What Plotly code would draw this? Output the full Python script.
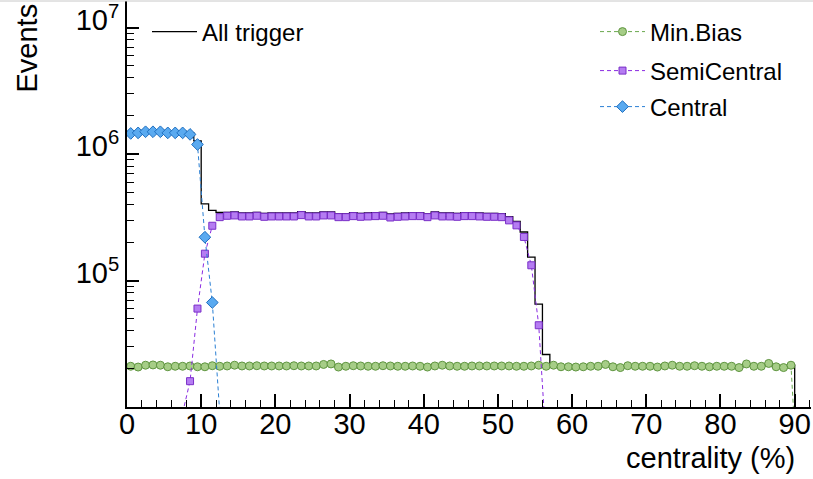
import numpy as np
import plotly.graph_objects as go

# centrality bins (1% wide), lower edges 0..90
bin_low = list(range(0, 91))

min_bias = [
    21000, 20700, 21400, 21500, 21400, 20800, 21000, 21000, 21100, 20800,
    20800, 21200, 21000, 21100, 21400, 21100, 21100, 21200, 21100, 21100,
    21100, 21100, 21200, 21100, 21100, 21100, 21700, 21900, 20700, 21000,
    21200, 21100, 21000, 21000, 21200, 21100, 21000, 21000, 21100, 21000,
    20700, 21100, 21400, 21100, 21000, 21000, 21100, 21100, 21100, 21100,
    21100, 21100, 21000, 21000, 21100, 21400, 21000, 21400, 20800, 20800,
    20700, 20800, 21000, 21000, 21700, 20800, 20500, 21200, 21000, 21000,
    21000, 20700, 21100, 21400, 21000, 21000, 21200, 21000, 20800, 21000,
    21000, 21000, 20500, 21900, 21000, 21000, 22100, 20800, 20500, 21400,
    2000,
]

semi_central = [None] * 7 + [
    9000, 16000, 60000, 163000, 271000, 317000, 325000, 327000, 321000, 321000,
    325000, 319000, 321000, 321000, 321000, 321000, 329000, 321000, 321000, 327000,
    327000, 317000, 317000, 323000, 319000, 321000, 323000, 325000, 315000, 319000,
    321000, 323000, 323000, 317000, 327000, 321000, 321000, 319000, 323000, 323000,
    321000, 319000, 319000, 317000, 299000, 273000, 221000, 132000, 44300, 5000,
] + [None] * 34

central = [
    1455000, 1470000, 1500000, 1500000, 1500000, 1470000, 1470000, 1470000,
    1430000, 1190000, 220000, 67000, 9000,
] + [None] * 78

all_trigger = [
    1500000, 1510000, 1540000, 1540000, 1540000, 1510000, 1510000, 1510000, 1470000, 1270000,
    404000, 359000, 345000, 346000, 348000, 342000, 342000, 346000, 340000, 342000,
    342000, 342000, 342000, 350000, 342000, 342000, 348000, 348000, 338000, 338000,
    344000, 340000, 342000, 344000, 346000, 336000, 340000, 342000, 344000, 344000,
    338000, 348000, 342000, 342000, 340000, 344000, 344000, 342000, 340000, 340000,
    338000, 320000, 294000, 242000, 153000, 65000, 26000, 21400, 20800, 20800,
    20700, 20800, 21000, 21000, 21700, 20800, 20500, 21200, 21000, 21000,
    21000, 20700, 21100, 21400, 21000, 21000, 21200, 21000, 20800, 21000,
    21000, 21000, 20500, 21900, 21000, 21000, 22100, 20800, 20500, 21400,
    2000,
]

y_tick_vals = [1e5, 1e6, 1e7]
y_tick_text = ["10<sup>5</sup>", "10<sup>6</sup>", "10<sup>7</sup>"]
x_tick_vals = [0, 10, 20, 30, 40, 50, 60, 70, 80, 90]

edges = np.array(bin_low, dtype=float)
centers = edges + 0.5

FONT = "Liberation Sans, Arial, sans-serif"

fig = go.Figure()

fig.add_trace(go.Scatter(
    x=edges, y=all_trigger, mode="lines", name="All trigger",
    line=dict(color="black", width=1.3, shape="hv"),
    legend="legend",
))

fig.add_trace(go.Scatter(
    x=centers, y=min_bias, mode="lines+markers", name="Min.Bias",
    line=dict(color="#6aa84f", width=1, dash="4px,3px"),
    marker=dict(symbol="circle", size=8, color="#a6cd87",
                line=dict(color="#5f9540", width=1)),
    legend="legend2",
))

fig.add_trace(go.Scatter(
    x=centers, y=semi_central, mode="lines+markers", name="SemiCentral",
    line=dict(color="#8a2be2", width=1, dash="4px,3px"),
    marker=dict(symbol="square", size=7, color="#b57cf2",
                line=dict(color="#7a2fc8", width=1)),
    legend="legend3",
))

fig.add_trace(go.Scatter(
    x=centers, y=central, mode="lines+markers", name="Central",
    line=dict(color="#2a7fd4", width=1, dash="4px,3px"),
    marker=dict(symbol="diamond", size=9, color="#5aaaf0",
                line=dict(color="#1f6fc0", width=1)),
    legend="legend4",
))

L, R, T, B = 127, 2, 1, 72
W, H = 813, 479
pw = W - L - R
ph = H - T - B

def px2x(px):
    return (px - L) / pw

def py2y(py):
    return 1 - (py - T) / ph

legend_common = dict(
    bgcolor="rgba(0,0,0,0)", borderwidth=0,
    font=dict(family=FONT, size=24, color="black"),
    xanchor="left", yanchor="middle", itemwidth=45,
    tracegroupgap=0,
)

fig.update_layout(
    width=W, height=H,
    margin=dict(l=L, r=R, t=T, b=B),
    paper_bgcolor="white", plot_bgcolor="white",
    font=dict(family=FONT, size=29, color="black"),
    showlegend=True,
    legend=dict(x=px2x(147), y=py2y(32), **legend_common),
    legend2=dict(x=px2x(595), y=py2y(32), **legend_common),
    legend3=dict(x=px2x(595), y=py2y(71), **legend_common),
    legend4=dict(x=px2x(595), y=py2y(107), **legend_common),
    xaxis=dict(
        range=[0, 92.2], showgrid=False, zeroline=False,
        showline=True, linecolor="black", linewidth=2,
        ticks="inside", ticklen=13, tickwidth=1.5, tickcolor="black",
        tickvals=x_tick_vals, ticklabelstandoff=-10,
        tickfont=dict(family=FONT, size=29, color="black"),
        minor=dict(ticks="inside", ticklen=7, tickwidth=1.2, tickcolor="black", dtick=2),
    ),
    yaxis=dict(
        type="log", range=[4, 7.21], showgrid=False, zeroline=False,
        showline=True, linecolor="black", linewidth=2,
        ticks="inside", ticklen=12, tickwidth=1.5, tickcolor="black",
        tickvals=y_tick_vals, ticktext=y_tick_text, ticklabelshift=-8,
        ticklabeloverflow="allow",
        tickfont=dict(family=FONT, size=29, color="black"),
        minor=dict(ticks="inside", ticklen=7, tickwidth=1.2, tickcolor="black", dtick="D1"),
    ),
    annotations=[
        dict(text="centrality (%)", xref="paper", yref="paper",
             x=px2x(797), y=py2y(458), xanchor="right", yanchor="middle",
             showarrow=False, font=dict(family=FONT, size=29, color="black")),
        dict(text="Events", xref="paper", yref="paper",
             x=px2x(26), y=py2y(2), xanchor="center", yanchor="top",
             textangle=-90, showarrow=False,
             font=dict(family=FONT, size=29, color="black")),
    ],
    shapes=[
        dict(type="line", xref="paper", yref="paper",
             x0=px2x(0), x1=px2x(W), y0=py2y(1), y1=py2y(1),
             line=dict(color="#c8c8c8", width=1)),
    ],
)

fig.write_html("out.html")
